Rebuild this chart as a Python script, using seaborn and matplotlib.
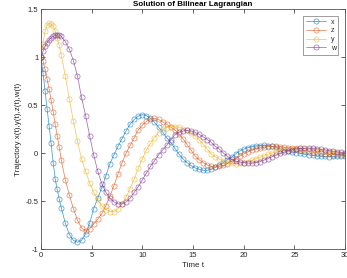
import numpy as np
import pandas as pd
import matplotlib
matplotlib.use("Agg")
import matplotlib.pyplot as plt
import seaborn as sns

# ---- data ----
t = [0.0, 0.2, 0.4, 0.6, 0.8, 1.0, 1.2, 1.4, 1.6, 1.8, 2.0,
     2.4, 2.8, 3.2, 3.6, 4.0, 4.4, 4.8, 5.2, 5.6, 6.0,
     6.4, 6.8, 7.2, 7.6, 8.0, 8.4, 8.8, 9.2, 9.6, 10.0,
     10.4, 10.8, 11.2, 11.6, 12.0, 12.4, 12.8, 13.2, 13.6, 14.0,
     14.4, 14.8, 15.2, 15.6, 16.0, 16.4, 16.8, 17.2, 17.6, 18.0,
     18.4, 18.8, 19.2, 19.6, 20.0, 20.4, 20.8, 21.2, 21.6, 22.0,
     22.4, 22.8, 23.2, 23.6, 24.0, 24.4, 24.8, 25.2, 25.6, 26.0,
     26.4, 26.8, 27.2, 27.6, 28.0, 28.4, 28.8, 29.2, 29.6, 30.0]

x_vals = [1.00, 0.83, 0.65, 0.46, 0.28, 0.10, -0.10, -0.27, -0.38, -0.48, -0.57,
          -0.73, -0.85, -0.91, -0.93, -0.91, -0.84, -0.73, -0.58, -0.47, -0.36,
          -0.24, -0.11, -0.02, 0.07, 0.15, 0.23, 0.30, 0.35, 0.385, 0.40,
          0.39, 0.36, 0.32, 0.27, 0.22, 0.16, 0.11, 0.05, -0.01, -0.06,
          -0.10, -0.13, -0.155, -0.17, -0.18, -0.18, -0.17, -0.15, -0.125, -0.10,
          -0.07, -0.045, -0.01, 0.02, 0.04, 0.055, 0.066, 0.074, 0.078, 0.079,
          0.077, 0.07, 0.058, 0.045, 0.033, 0.022, 0.012, 0.004, -0.004, -0.012,
          -0.019, -0.025, -0.03, -0.034, -0.036, -0.037, -0.036, -0.034, -0.031, -0.028]

z_vals = [1.00, 0.96, 0.87, 0.77, 0.67, 0.55, 0.43, 0.30, 0.18, 0.06, -0.07,
          -0.28, -0.44, -0.58, -0.70, -0.78, -0.81, -0.79, -0.74, -0.69, -0.63,
          -0.55, -0.45, -0.34, -0.22, -0.10, 0.00, 0.08, 0.16, 0.24, 0.29,
          0.33, 0.355, 0.36, 0.35, 0.325, 0.30, 0.27, 0.24, 0.20, 0.15,
          0.09, 0.03, -0.03, -0.07, -0.10, -0.125, -0.14, -0.145, -0.14, -0.13,
          -0.11, -0.085, -0.06, -0.035, -0.01, 0.01, 0.03, 0.045, 0.055, 0.062,
          0.066, 0.068, 0.068, 0.066, 0.062, 0.057, 0.05, 0.042, 0.034, 0.026,
          0.018, 0.01, 0.003, -0.004, -0.009, -0.013, -0.016, -0.018, -0.019, -0.02]

y_vals = [1.00, 1.14, 1.27, 1.33, 1.35, 1.345, 1.32, 1.27, 1.20, 1.12, 1.02,
          0.80, 0.56, 0.33, 0.12, -0.06, -0.19, -0.31, -0.41, -0.49, -0.55,
          -0.59, -0.61, -0.61, -0.58, -0.53, -0.46, -0.37, -0.27, -0.16, -0.06,
          0.03, 0.10, 0.16, 0.21, 0.245, 0.265, 0.275, 0.275, 0.27, 0.255,
          0.235, 0.21, 0.18, 0.14, 0.09, 0.04, -0.01, -0.04, -0.065, -0.08,
          -0.095, -0.105, -0.11, -0.108, -0.10, -0.09, -0.075, -0.06, -0.045, -0.03,
          -0.015, 0.0, 0.012, 0.024, 0.033, 0.04, 0.045, 0.047, 0.047, 0.045,
          0.042, 0.037, 0.031, 0.025, 0.018, 0.012, 0.006, 0.0, -0.005, -0.01]

w_vals = [1.00, 1.06, 1.11, 1.15, 1.18, 1.20, 1.215, 1.225, 1.23, 1.23, 1.215,
          1.16, 1.08, 0.96, 0.80, 0.58, 0.39, 0.18, -0.02, -0.19, -0.32,
          -0.41, -0.47, -0.51, -0.53, -0.53, -0.51, -0.47, -0.41, -0.35, -0.28,
          -0.21, -0.14, -0.08, -0.02, 0.03, 0.08, 0.14, 0.19, 0.215, 0.23,
          0.235, 0.23, 0.215, 0.195, 0.17, 0.14, 0.11, 0.07, 0.04, 0.0,
          -0.035, -0.065, -0.085, -0.095, -0.10, -0.105, -0.105, -0.10, -0.09, -0.075,
          -0.058, -0.04, -0.022, -0.005, 0.01, 0.024, 0.035, 0.043, 0.048, 0.05,
          0.05, 0.048, 0.044, 0.038, 0.032, 0.025, 0.018, 0.012, 0.006, 0.0]

series_names = ["x", "z", "y", "w"]
series_values = [x_vals, z_vals, y_vals, w_vals]
series_colors = ["#0072BD", "#D95319", "#EDB120", "#7E2F8E"]

x_ticks = [0, 5, 10, 15, 20, 25, 30]
x_ticklabels = ["0", "5", "10", "15", "20", "25", "30"]
y_ticks = [-1, -0.5, 0, 0.5, 1, 1.5]
y_ticklabels = ["-1", "-0.5", "0", "0.5", "1", "1.5"]

title_text = "Solution of Bilinear Lagrangian"
xlabel_text = "Time t"
ylabel_text = "Trajectory x(t),y(t),z(t),w(t)"

# ---- figure ----
sns.set_theme(style="ticks")
plt.rcParams["font.family"] = ["Liberation Sans", "DejaVu Sans"]
plt.rcParams["axes.unicode_minus"] = False

fig = plt.figure(figsize=(3.47, 2.78), dpi=100)
ax = fig.add_axes([41 / 347, 1 - 249 / 278, 304 / 347, 240 / 278])

frames = []
for name, vals in zip(series_names, series_values):
    frames.append(pd.DataFrame({"t": t, "val": vals, "series": name}))
df = pd.concat(frames, ignore_index=True)

for name, color in zip(series_names, series_colors):
    sub = df[df["series"] == name]
    sns.lineplot(data=sub, x="t", y="val", ax=ax, color=color, lw=0.55,
                 marker="o", markersize=3.7, markerfacecolor="none",
                 markeredgecolor=color, markeredgewidth=0.5, alpha=0.7,
                 label=name, sort=False)

ax.set_xlim(0, 30)
ax.set_ylim(-1, 1.5)
ax.set_xticks(x_ticks)
ax.set_xticklabels(x_ticklabels)
ax.set_yticks(y_ticks)
ax.set_yticklabels(y_ticklabels)

ax.tick_params(axis="both", which="both", direction="in", length=3, width=0.5,
               labelsize=5.5, colors="#262626", top=True, right=True, pad=2)
for sp in ax.spines.values():
    sp.set_visible(True)
    sp.set_linewidth(0.6)
    sp.set_color("#555555")

ax.set_title(title_text, fontsize=5.8, fontweight="bold", pad=2, color="black")
ax.set_xlabel(xlabel_text, fontsize=5.8, labelpad=2, color="#262626")
ax.set_ylabel(ylabel_text, fontsize=5.8, labelpad=2, color="#262626")

leg = ax.legend(loc="upper right", bbox_to_anchor=(0.985, 0.98), fontsize=5,
                frameon=True, fancybox=False, handlelength=3.0,
                handletextpad=0.6, borderpad=0.4, labelspacing=0.25,
                borderaxespad=0.3)
leg.get_frame().set_edgecolor("#555555")
leg.get_frame().set_linewidth(0.5)

ax.set_facecolor("white")
fig.patch.set_facecolor("white")
fig.savefig("out.png", dpi=100)
